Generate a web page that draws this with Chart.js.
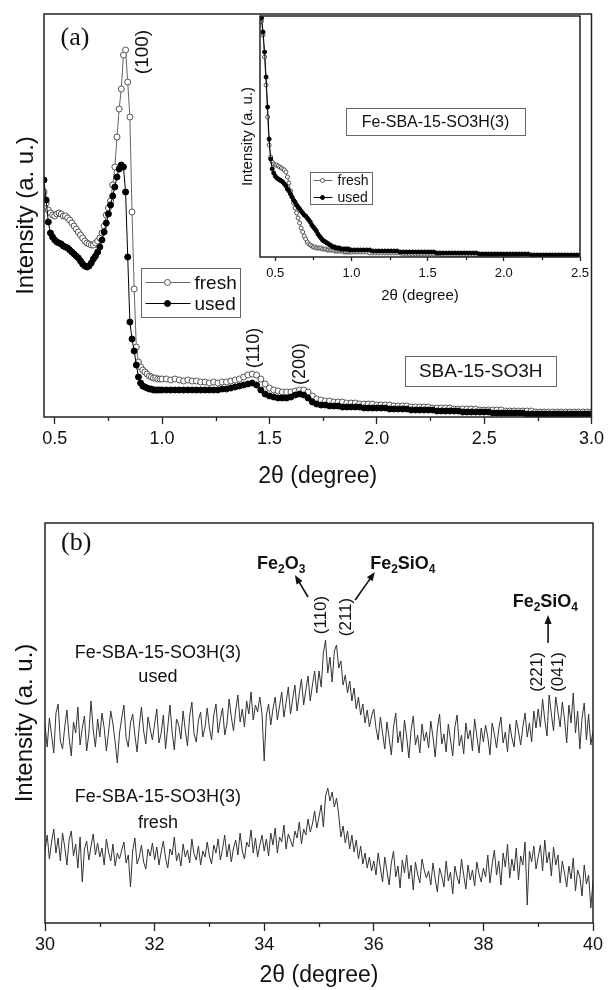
<!DOCTYPE html>
<html>
<head>
<meta charset="utf-8">
<script src="https://cdn.jsdelivr.net/npm/chart.js@4.4.1/dist/chart.umd.min.js"></script>
<style>
  body { margin: 0; background: #fff; }
  #fig { position: relative; width: 608px; height: 990px; }
  canvas { position: absolute; }
</style>
</head>
<body>
<div id="fig">
  <canvas id="chartA" width="608" height="490" style="left:0;top:0"></canvas>
  <canvas id="chartInset" width="370" height="310" style="left:235px;top:0"></canvas>
  <canvas id="chartB" width="608" height="500" style="left:0;top:490px"></canvas>
</div>
<script>
const SANS = '"Liberation Sans", Arial, Helvetica, sans-serif';
const SERIF = '"Liberation Serif", "Times New Roman", serif';
Chart.defaults.font.family = SANS;
Chart.defaults.color = '#111';

// x positions (2theta) of the scans
function grid(start, step, count) {
    const out = [];
    for (let i = 0; i < count; i++) out.push(+(start + i * step).toFixed(3));
    return out;
}

// ---- panel (a): SBA-15-SO3H, low angle ----
const aX = grid(0.45, 0.01, 56).concat(grid(1.02, 0.02, 100));
const aFresh = [
    225, 214, 207, 204, 202, 201, 203, 204, 203, 201,   // 0.45-0.54
    201, 199, 197, 194, 191, 188, 185, 182, 179, 176,   // 0.55-0.64
    174, 173, 172, 172, 174, 176, 179, 184, 191, 202,   // 0.65-0.74
    209, 216, 232, 250, 280, 308, 328, 362, 367, 335,   // 0.75-0.84
    300, 205, 128, 70, 55, 50, 47, 45, 43, 41,          // 0.85-0.94
    40, 39, 39, 38, 38, 38,                             // 0.95-1.00
    38, 37, 38, 37, 36, 37, 36, 36, 35, 35,             // 1.02-1.20
    34, 35, 34, 35, 35, 36, 37, 38, 40, 42,
    43, 42, 38, 33, 29, 27, 26, 25, 25, 25,
    26, 27, 27, 25, 21, 18, 17, 16, 16, 15,
    15, 15, 14, 14, 14, 13, 13, 13, 13, 12,
    12, 12, 12, 11, 11, 11, 11, 10, 10, 10,
    10, 10, 9, 9, 9, 9, 9, 8, 8, 8,
    8, 8, 8, 7, 7, 7, 7, 7, 7, 6,
    6, 6, 6, 6, 6, 6, 5, 5, 5, 5,
    5, 5, 5, 5, 5, 5, 5, 5, 5, 5                        // 2.82-3.00
];
const aUsed = [
    237, 217, 195, 184, 180, 177, 175, 174, 173, 171,
    170, 169, 167, 165, 163, 161, 159, 156, 153, 151,
    150, 151, 154, 158, 161, 165, 170, 177, 185, 194,
    203, 212, 221, 230, 240, 248, 252, 250, 225, 160,
    95, 78, 66, 52, 40, 34, 31, 30, 29, 28,
    28, 27, 27, 27, 27, 27,
    27, 27, 27, 27, 27, 27, 27, 27, 27, 27,
    27, 27, 27, 28, 28, 29, 30, 31, 32, 33,
    34, 32, 27, 23, 21, 20, 19, 19, 19, 20,
    22, 23, 22, 19, 15, 13, 12, 12, 11, 11,
    11, 10, 10, 10, 10, 10, 9, 9, 9, 9,
    9, 9, 8, 8, 8, 8, 8, 7, 7, 7,
    7, 7, 7, 6, 6, 6, 6, 6, 6, 5,
    5, 5, 5, 5, 5, 5, 4, 4, 4, 4,
    4, 4, 4, 4, 3, 3, 3, 3, 3, 3,
    3, 3, 3, 3, 3, 3, 3, 3, 3, 3
];
const aTicks = [0.5, 1.0, 1.5, 2.0, 2.5, 3.0];
const aMinor = [0.75, 1.25, 1.75, 2.25, 2.75];

// ---- inset: Fe-SBA-15-SO3H(3) ----
const insetX = grid(0.41, 0.01, 60).concat(grid(1.02, 0.02, 75));
const insetFresh = [
    236, 222, 200, 172, 140, 112, 100, 95, 93, 92,
    92, 91, 90, 89, 88, 87, 85, 80, 74, 66,
    60, 54, 49, 44, 39, 34, 29, 25, 21, 18,
    15, 13, 12, 11, 10, 10, 9, 9, 9, 9,
    8, 8, 8, 7, 7, 7, 7, 7, 6, 6,
    6, 6, 6, 6, 5, 5, 5, 5, 5, 5,
    5, 5, 5, 5, 5, 4, 4, 4, 4, 4, 4, 4, 4, 4, 4, 4, 3, 3, 3, 3, 3, 3, 3, 3, 3,
    3, 3, 3, 3, 2, 2, 2, 2, 2, 2, 2, 2, 2, 2, 2, 2, 2, 2, 2, 2, 2, 2, 2, 2, 2,
    2, 2, 2, 2, 2, 1, 1, 1, 1, 1, 1, 1, 1, 1, 1, 1, 1, 1, 1, 1, 1, 1, 1, 1, 1
];
const insetUsed = [
    239, 225, 205, 180, 150, 118, 98, 88, 84, 81,
    79, 78, 77, 76, 75, 73, 71, 68, 66, 63,
    60, 57, 55, 52, 50, 48, 46, 44, 42, 41,
    39, 37, 35, 32, 30, 28, 26, 23, 21, 19,
    17, 16, 15, 14, 13, 12, 11, 10, 10, 9,
    9, 9, 8, 8, 8, 8, 8, 8, 7, 7,
    7, 7, 7, 7, 7, 7, 6, 6, 6, 6, 6, 6, 6, 6, 6, 5, 5, 5, 5, 5, 5, 5, 5, 5, 5,
    5, 5, 4, 4, 4, 4, 4, 4, 4, 4, 4, 4, 4, 4, 4, 4, 3, 3, 3, 3, 3, 3, 3, 3, 3,
    3, 3, 3, 3, 3, 3, 3, 3, 2, 2, 2, 2, 2, 2, 2, 2, 2, 2, 2, 2, 2, 2, 2, 2, 2
];
const insetTicks = [0.5, 1.0, 1.5, 2.0, 2.5];
const insetMinor = [0.75, 1.25, 1.75, 2.25];

// ---- panel (b): wide angle, 30-40 deg ----
const bX = grid(30, 0.04, 251);
const bUsed = [
    198, 176, 205, 188, 170, 210, 219, 182, 174, 196, 213, 185, 167, 201, 190, 216, 178, 195, 207, 172, 189, 222, 193, 176, 204,
    186, 210, 195, 172, 191, 212, 199, 181, 160, 190, 205, 218, 185, 176, 200, 209, 188, 171, 197, 216, 192, 179, 206, 194, 183,
    199, 214, 180, 190, 208, 174, 196, 218, 191, 173, 204, 198, 184, 212, 193, 177, 207, 221, 189, 181, 203, 211, 186, 196, 215,
    195, 183, 208, 219, 190, 204, 215, 188, 199, 224, 206, 192, 213, 228, 201, 214, 196, 222, 209, 231, 203, 218, 211, 226, 209,
    162, 208, 219, 198, 214, 226, 203, 217, 231, 206, 221, 236, 209, 224, 238, 212, 229, 244, 218, 233, 247, 222, 238, 252, 230,
    252, 236, 270, 283, 250, 266, 241, 272, 278, 255, 262, 238, 248, 230, 242, 222, 235, 214, 226, 208, 219, 200, 213, 196, 207,
    214, 195, 183, 206, 190, 174, 201, 185, 168, 196, 210, 180, 192, 171, 203, 186, 165, 193, 207, 178, 188, 170, 199, 182, 191,
    175, 202, 186, 166, 194, 209, 179, 189, 171, 199, 183, 167, 196, 208, 177, 188, 169, 200, 184, 193, 172, 204, 187, 170, 195,
    181, 198, 186, 168, 200, 189, 175, 194, 206, 180, 191, 171, 199, 185, 176, 203, 192, 178, 196, 210, 186, 200, 181, 212, 195,
    214, 196, 224, 203, 187, 228, 209, 192, 226, 211, 196, 221, 204, 180, 218, 200, 230, 190, 212, 174, 205, 220, 183, 209, 178,
    192
];
const bFresh = [
    72, 88, 64, 81, 94, 70, 85, 62, 90, 76, 58, 83, 92, 67, 79, 55, 86, 41, 74, 82, 63, 77, 89, 68, 80,
    66, 75, 58, 84, 71, 62, 79, 57, 70, 64, 73, 81, 60, 68, 36, 72, 85, 59, 66, 78, 61, 54, 74, 67, 80,
    63, 76, 58, 71, 82, 65, 55, 74, 68, 86, 62, 70, 57, 79, 66, 73, 60, 84, 69, 63, 77, 58, 72, 66, 81,
    67, 59, 78, 70, 84, 63, 74, 88, 66, 79, 61, 75, 83, 68, 90, 72, 64, 81, 76, 93, 70, 85, 66, 78, 88,
    72, 84, 67, 90, 78, 95, 70, 86, 81, 98, 74, 89, 83, 76, 92, 85, 101, 79, 94, 88, 104, 91, 99, 112, 95,
    106, 118, 96, 127, 135, 122, 131, 116, 125, 108, 86, 97, 80, 92, 74, 88, 71, 83, 64, 77, 59, 70, 55, 66, 52,
    62, 48, 70, 55, 41, 66, 52, 38, 60, 72, 46, 57, 35, 63, 50, 68, 44, 58, 33, 61, 49, 40, 64, 53, 45,
    52, 38, 60, 44, 31, 55, 47, 36, 62, 42, 51, 29, 57, 46, 39, 64, 48, 34, 58, 43, 53, 37, 61, 49, 41,
    55, 46, 68, 40, 59, 73, 48, 62, 38, 70, 56, 79, 45, 64, 52, 75, 43, 67, 58, 81, 18, 72, 61, 77, 54,
    66, 78, 52, 83, 60, 71, 47, 76, 58, 68, 40, 62, 50, 36, 57, 44, 65, 32, 53, 46, 27, 58, 39, 48, 15,
    42
];
const bTicks = [30, 32, 34, 36, 38, 40];
const bMinor = [31, 33, 35, 37, 39];

// labels, boxes and arrows, placed in data units
const aNotes = [
    { kind: 'text', x: 0.594, y: 379, text: '(a)', size: 26, family: SERIF },
    { kind: 'text', x: 0.91, y: 365, text: '(100)', size: 19, rotate: true },
    { kind: 'text', x: 1.43, y: 69, text: '(110)', size: 18, rotate: true },
    { kind: 'text', x: 1.644, y: 53, text: '(200)', size: 18, rotate: true },
    { kind: 'box', x: 2.484, y: 46, text: 'SBA-15-SO3H', size: 19, w: 151, h: 30 },
    { kind: 'legend', x: 0.9005, y: 149, w: 99, h: 49, size: 19, rows: [14, 35], line: [4, 49], marker: 26, textX: 53 }
];
const insetNotes = [
    { kind: 'box', x: 1.552, y: 135.5, text: 'Fe-SBA-15-SO3H(3)', size: 16, w: 179, h: 27 },
    { kind: 'legend', x: 0.728, y: 85, w: 62, h: 32, size: 14, rows: [8, 25], line: [3, 22], marker: 12, textX: 27 }
];
const bNotes = [
    { kind: 'text', x: 30.57, y: 380, text: '(b)', size: 26, family: SERIF },
    { kind: 'text', x: 32.06, y: 270, text: 'Fe-SBA-15-SO3H(3)', size: 18 },
    { kind: 'text', x: 32.06, y: 246, text: 'used', size: 18 },
    { kind: 'text', x: 32.06, y: 126, text: 'Fe-SBA-15-SO3H(3)', size: 18 },
    { kind: 'text', x: 32.06, y: 100, text: 'fresh', size: 18 },
    { kind: 'rich', x: 34.31, y: 360, text: 'Fe_2O_3', size: 18, sub: 12 },
    { kind: 'arrow', x: 34.8, y: 326, x2: 34.56, y2: 348 },
    { kind: 'rich', x: 36.53, y: 360, text: 'Fe_2SiO_4', size: 18, sub: 12 },
    { kind: 'arrow', x: 35.66, y: 323, x2: 36.02, y2: 351 },
    { kind: 'text', x: 35.04, y: 308, text: '(110)', size: 17, rotate: true },
    { kind: 'text', x: 35.49, y: 306, text: '(211)', size: 17, rotate: true },
    { kind: 'rich', x: 39.13, y: 322, text: 'Fe_2SiO_4', size: 18, sub: 12 },
    { kind: 'arrow', x: 39.18, y: 280, x2: 39.18, y2: 308 },
    { kind: 'text', x: 38.98, y: 251, text: '(221)', size: 17, rotate: true },
    { kind: 'text', x: 39.36, y: 251, text: '(041)', size: 17, rotate: true }
];

function points(xs, ys) {
    return xs.map((x, i) => ({ x: x, y: ys[i] }));
}

function framePlugin(minor, minorLen) {
    return {
        id: 'frame',
        afterDraw(chart) {
            const { ctx, chartArea: a } = chart;
            const sx = chart.scales.x;
            ctx.save();
            ctx.strokeStyle = '#222';
            ctx.lineWidth = 1.5;
            ctx.strokeRect(a.left, a.top, a.right - a.left, a.bottom - a.top);
            ctx.lineWidth = 1.3;
            ctx.beginPath();
            minor.forEach(v => {
                const px = Math.round(sx.getPixelForValue(v)) + 0.5;
                ctx.moveTo(px, a.bottom);
                ctx.lineTo(px, a.bottom + minorLen);
            });
            ctx.stroke();
            ctx.restore();
        }
    };
}

function notesPlugin(items) {
    return {
        id: 'notes',
        afterDraw(chart) {
            const ctx = chart.ctx;
            const sx = chart.scales.x, sy = chart.scales.y;
            items.forEach(it => {
                const px = sx.getPixelForValue(it.x), py = sy.getPixelForValue(it.y);
                ctx.save();
                ctx.fillStyle = '#111';
                ctx.strokeStyle = '#111';
                if (it.kind === 'text') {
                    ctx.font = (it.weight || 'normal') + ' ' + it.size + 'px ' + (it.family || SANS);
                    ctx.textAlign = 'center';
                    ctx.textBaseline = 'middle';
                    ctx.translate(px, py);
                    if (it.rotate) ctx.rotate(-Math.PI / 2);
                    ctx.fillText(it.text, 0, 0);
                } else if (it.kind === 'box') {
                    const x0 = Math.round(px - it.w / 2) + 0.5, y0 = Math.round(py - it.h / 2) + 0.5;
                    ctx.fillStyle = '#fff';
                    ctx.fillRect(x0, y0, it.w, it.h);
                    ctx.strokeStyle = '#666';
                    ctx.lineWidth = 1;
                    ctx.strokeRect(x0, y0, it.w, it.h);
                    ctx.fillStyle = '#111';
                    ctx.font = it.size + 'px ' + SANS;
                    ctx.textAlign = 'center';
                    ctx.textBaseline = 'middle';
                    ctx.fillText(it.text, px, py + 1);
                } else if (it.kind === 'rich') {
                    // "_d" marks a subscript digit
                    const parts = it.text.split(/_(\d)/);
                    const big = 'bold ' + it.size + 'px ' + SANS, small = 'bold ' + it.sub + 'px ' + SANS;
                    let w = 0;
                    parts.forEach((p, i) => { ctx.font = i % 2 ? small : big; w += ctx.measureText(p).width; });
                    let cx = px - w / 2;
                    const base = py + it.size * 0.36;
                    ctx.textAlign = 'left';
                    ctx.textBaseline = 'alphabetic';
                    parts.forEach((p, i) => {
                        ctx.font = i % 2 ? small : big;
                        ctx.fillText(p, cx, i % 2 ? base + it.size * 0.22 : base);
                        cx += ctx.measureText(p).width;
                    });
                } else if (it.kind === 'arrow') {
                    const qx = sx.getPixelForValue(it.x2), qy = sy.getPixelForValue(it.y2);
                    const ang = Math.atan2(qy - py, qx - px), c = Math.cos(ang), s = Math.sin(ang);
                    const L = 9, W = 3.5;
                    ctx.lineWidth = 1.6;
                    ctx.beginPath();
                    ctx.moveTo(px, py);
                    ctx.lineTo(qx - L * 0.7 * c, qy - L * 0.7 * s);
                    ctx.stroke();
                    ctx.beginPath();
                    ctx.moveTo(qx, qy);
                    ctx.lineTo(qx - L * c + W * s, qy - L * s - W * c);
                    ctx.lineTo(qx - L * c - W * s, qy - L * s + W * c);
                    ctx.closePath();
                    ctx.fill();
                } else if (it.kind === 'legend') {
                    const x0 = Math.round(px) + 0.5, y0 = Math.round(py) + 0.5;
                    ctx.fillStyle = '#fff';
                    ctx.fillRect(x0, y0, it.w, it.h);
                    ctx.strokeStyle = '#666';
                    ctx.lineWidth = 1;
                    ctx.strokeRect(x0, y0, it.w, it.h);
                    ctx.font = it.size + 'px ' + SANS;
                    ctx.textAlign = 'left';
                    ctx.textBaseline = 'middle';
                    chart.data.datasets.forEach((ds, i) => {
                        const ry = y0 + it.rows[i];
                        ctx.strokeStyle = ds.borderColor;
                        ctx.lineWidth = ds.borderWidth;
                        ctx.beginPath();
                        ctx.moveTo(x0 + it.line[0], ry);
                        ctx.lineTo(x0 + it.line[1], ry);
                        ctx.stroke();
                        ctx.beginPath();
                        ctx.arc(x0 + it.marker, ry, ds.pointRadius, 0, Math.PI * 2);
                        ctx.fillStyle = ds.pointBackgroundColor;
                        ctx.fill();
                        ctx.strokeStyle = ds.pointBorderColor;
                        ctx.lineWidth = ds.pointBorderWidth;
                        ctx.stroke();
                        ctx.fillStyle = '#111';
                        ctx.fillText(ds.label, x0 + it.textX, ry + 1);
                    });
                }
                ctx.restore();
            });
        }
    };
}

function xrdChart(canvasId, o) {
    return new Chart(document.getElementById(canvasId), {
        type: 'line',
        data: { datasets: o.datasets },
        options: {
            responsive: false,
            animation: false,
            devicePixelRatio: 1,
            layout: { padding: o.padding },
            plugins: { legend: { display: false }, tooltip: { enabled: false } },
            scales: {
                x: {
                    type: 'linear',
                    min: o.xMin,
                    max: o.xMax,
                    afterBuildTicks: s => { s.ticks = o.ticks.map(v => ({ value: v })); },
                    afterFit: s => { s.height = o.xHeight; },
                    ticks: {
                        font: { size: o.tickSize },
                        color: '#111',
                        padding: o.tickPad,
                        maxRotation: 0,
                        autoSkip: false,
                        callback: o.fmt
                    },
                    grid: { drawOnChartArea: false, tickLength: o.tickLen, tickColor: '#222', tickWidth: 1.3 },
                    border: { display: false },
                    title: {
                        display: true,
                        text: '2θ (degree)',
                        font: { size: o.titleSize },
                        color: '#111',
                        padding: { top: 0, bottom: o.xTitlePad }
                    }
                },
                y: {
                    min: 0,
                    max: o.yMax,
                    afterFit: s => { s.width = o.yWidth; },
                    ticks: { display: false },
                    grid: { display: false },
                    border: { display: false },
                    title: {
                        display: true,
                        text: 'Intensity (a. u.)',
                        font: { size: o.yTitleSize },
                        color: '#111',
                        padding: { top: o.yTitlePad, bottom: 0 }
                    }
                }
            }
        },
        plugins: [framePlugin(o.minor, o.minorLen), notesPlugin(o.notes)]
    });
}

function freshSet(xs, ys, r) {
    return {
        label: 'fresh', data: points(xs, ys), order: 2,
        borderColor: '#666', borderWidth: 1,
        pointRadius: r, pointBorderWidth: 1, pointBorderColor: '#555', pointBackgroundColor: '#fff'
    };
}
function usedSet(xs, ys, r) {
    return {
        label: 'used', data: points(xs, ys), order: 1,
        borderColor: '#000', borderWidth: 1,
        pointRadius: r, pointBorderWidth: 1, pointBorderColor: '#000', pointBackgroundColor: '#000'
    };
}
function traceSet(label, xs, ys) {
    return {
        label: label, data: points(xs, ys),
        borderColor: '#333', borderWidth: 1, pointRadius: 0, tension: 0
    };
}

xrdChart('chartA', {
    datasets: [freshSet(aX, aFresh, 3), usedSet(aX, aUsed, 3)],
    padding: { left: 0, top: 14, right: 15, bottom: 0 },
    xMin: 0.45, xMax: 3.0, yMax: 403,
    ticks: aTicks, minor: aMinor, minorLen: 4,
    fmt: v => v.toFixed(1),
    xHeight: 73, yWidth: 44,
    tickSize: 18, tickPad: 4, tickLen: 7,
    titleSize: 23, xTitlePad: 0, yTitleSize: 24, yTitlePad: 12,
    notes: aNotes
});

xrdChart('chartInset', {
    datasets: [freshSet(insetX, insetFresh, 2), usedSet(insetX, insetUsed, 2)],
    padding: { left: 0, top: 16, right: 25, bottom: 0 },
    xMin: 0.4, xMax: 2.5, yMax: 241,
    ticks: insetTicks, minor: insetMinor, minorLen: 3,
    fmt: v => v.toFixed(1),
    xHeight: 53, yWidth: 25,
    tickSize: 13, tickPad: 5, tickLen: 4,
    titleSize: 15, xTitlePad: 5, yTitleSize: 15, yTitlePad: 4,
    notes: insetNotes
});

xrdChart('chartB', {
    datasets: [traceSet('used', bX, bUsed), traceSet('fresh', bX, bFresh)],
    padding: { left: 0, top: 33, right: 15, bottom: 0 },
    xMin: 30, xMax: 40, yMax: 400,
    ticks: bTicks, minor: bMinor, minorLen: 4,
    fmt: v => String(v),
    xHeight: 67, yWidth: 45,
    tickSize: 18, tickPad: 3, tickLen: 8,
    titleSize: 23, xTitlePad: 1, yTitleSize: 24, yTitlePad: 11,
    notes: bNotes
});
</script>
</body>
</html>
